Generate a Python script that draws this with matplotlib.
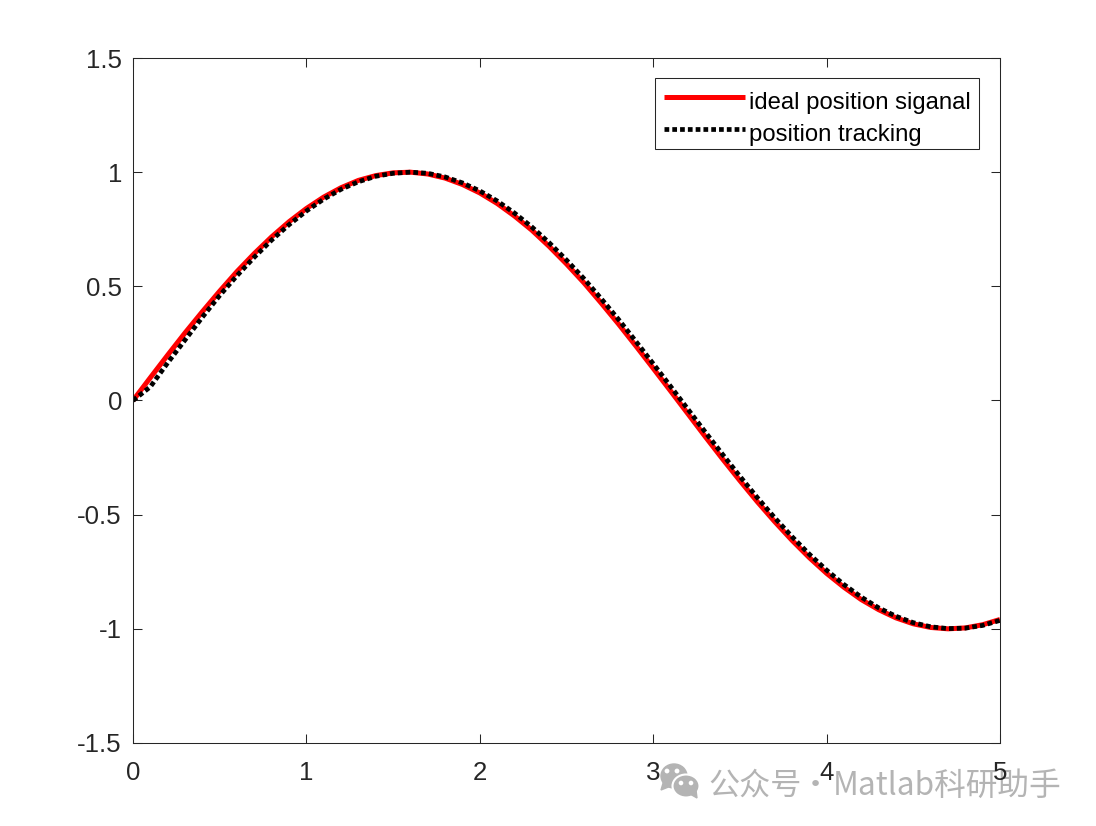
import matplotlib
matplotlib.use('Agg')
import matplotlib.pyplot as plt
from matplotlib.patches import Ellipse, Polygon

plt.rcParams['font.family'] = ['Liberation Sans', 'DejaVu Sans']

# values, every 0.1 s
t = [0.0, 0.1, 0.2, 0.3, 0.4, 0.5, 0.6, 0.7, 0.8, 0.9,
     1.0, 1.1, 1.2, 1.3, 1.4, 1.5, 1.6, 1.7, 1.8, 1.9,
     2.0, 2.1, 2.2, 2.3, 2.4, 2.5, 2.6, 2.7, 2.8, 2.9,
     3.0, 3.1, 3.2, 3.3, 3.4, 3.5, 3.6, 3.7, 3.8, 3.9,
     4.0, 4.1, 4.2, 4.3, 4.4, 4.5, 4.6, 4.7, 4.8, 4.9, 5.0]
ideal = [0.0, 0.10, 0.199, 0.296, 0.389, 0.479, 0.565, 0.644, 0.717, 0.783,
         0.841, 0.891, 0.932, 0.964, 0.985, 0.997, 1.0, 0.992, 0.974, 0.946,
         0.909, 0.863, 0.808, 0.746, 0.675, 0.598, 0.516, 0.427, 0.335, 0.239,
         0.141, 0.042, -0.058, -0.158, -0.256, -0.351, -0.443, -0.530, -0.612, -0.688,
         -0.757, -0.818, -0.872, -0.916, -0.952, -0.978, -0.994, -1.0, -0.996, -0.982, -0.959]
tracking = [0.0, 0.06, 0.165, 0.265, 0.365, 0.46, 0.547, 0.628, 0.703, 0.77,
            0.83, 0.882, 0.925, 0.958, 0.982, 0.995, 1.0, 0.995, 0.979, 0.953,
            0.918, 0.874, 0.821, 0.76, 0.691, 0.615, 0.534, 0.446, 0.355, 0.259,
            0.161, 0.062, -0.038, -0.138, -0.236, -0.332, -0.425, -0.513, -0.596, -0.673,
            -0.743, -0.806, -0.861, -0.908, -0.945, -0.973, -0.991, -0.999, -0.997, -0.985, -0.963]
xticks = [0, 1, 2, 3, 4, 5]
yticks = [-1.5, -1, -0.5, 0, 0.5, 1, 1.5]
ylabels = ['-1.5', '-1', '-0.5', '0', '0.5', '1', '1.5']

W, H = 1096, 826
fig = plt.figure(figsize=(W / 100, H / 100), dpi=100)
ax = fig.add_axes([133 / W, 1 - 743 / H, 867 / W, 685 / H])

ax.plot(t, ideal, color='#ff0000', lw=3.6, label='ideal position siganal', solid_capstyle='butt')
ax.plot(t, tracking, color='black', lw=3.4, ls=(0, (1.0, 0.65)), label='position tracking', dash_capstyle='butt')

ax.set_xlim(0, 5)
ax.set_ylim(-1.5, 1.5)
ax.set_xticks(xticks)
ax.set_yticks(yticks)
ax.set_yticklabels(ylabels)
ax.tick_params(direction='in', top=True, right=True, length=6.2, width=0.75,
               color='#262626', labelcolor='#262626', labelsize=18.6)
ax.tick_params(axis='x', pad=13)
ax.tick_params(axis='y', pad=8)
for s in ax.spines.values():
    s.set_linewidth(0.75)
    s.set_color('#262626')

leg = ax.legend(loc='upper left', bbox_to_anchor=(522 / 867, 1 - 20 / 685), borderaxespad=0,
                fontsize=17.2, fancybox=False, framealpha=1, edgecolor='#262626',
                handlelength=3.4, handletextpad=0.18, labelspacing=0.43, borderpad=0.36)
leg.get_frame().set_linewidth(0.75)
for txt in leg.get_texts():
    txt.set_y(-5)
for ln in leg.get_lines():
    ln.set_ydata([y - 1.4 for y in ln.get_ydata()])

# watermark, in pixel coordinates
wm = fig.add_axes([0, 0, 1, 1], zorder=-1)
wm.set_xlim(0, W)
wm.set_ylim(H, 0)
wm.axis('off')
grey = '#b4b4b4'
wm_font = ['Noto Sans CJK SC', 'DejaVu Sans']
wm.add_patch(Ellipse((674, 776), 26, 24, color=grey))
wm.add_patch(Polygon([[664, 780], [661, 790], [671, 786]], color=grey))
wm.add_patch(Ellipse((686, 786), 27, 23, color=grey, ec='white', lw=1.5))
wm.add_patch(Polygon([[690, 794], [697, 798], [696, 790]], color=grey))
for x, y, r in [(667, 771, 1.7), (677, 771, 1.7), (681, 783, 1.6), (691, 783, 1.6)]:
    wm.add_patch(Ellipse((x, y), 2 * r, 2 * r, color='white'))
wm.text(708, 786, '公众号', fontsize=22.4, color=grey, va='center', ha='left', family=wm_font)
wm.text(815, 786, '·', fontsize=22.4, color=grey, va='center', ha='center', family=wm_font)
wm.text(833, 786, 'Matlab科研助手', fontsize=22.8, color=grey, va='center', ha='left', family=wm_font)

fig.savefig('out.png', dpi=100)
